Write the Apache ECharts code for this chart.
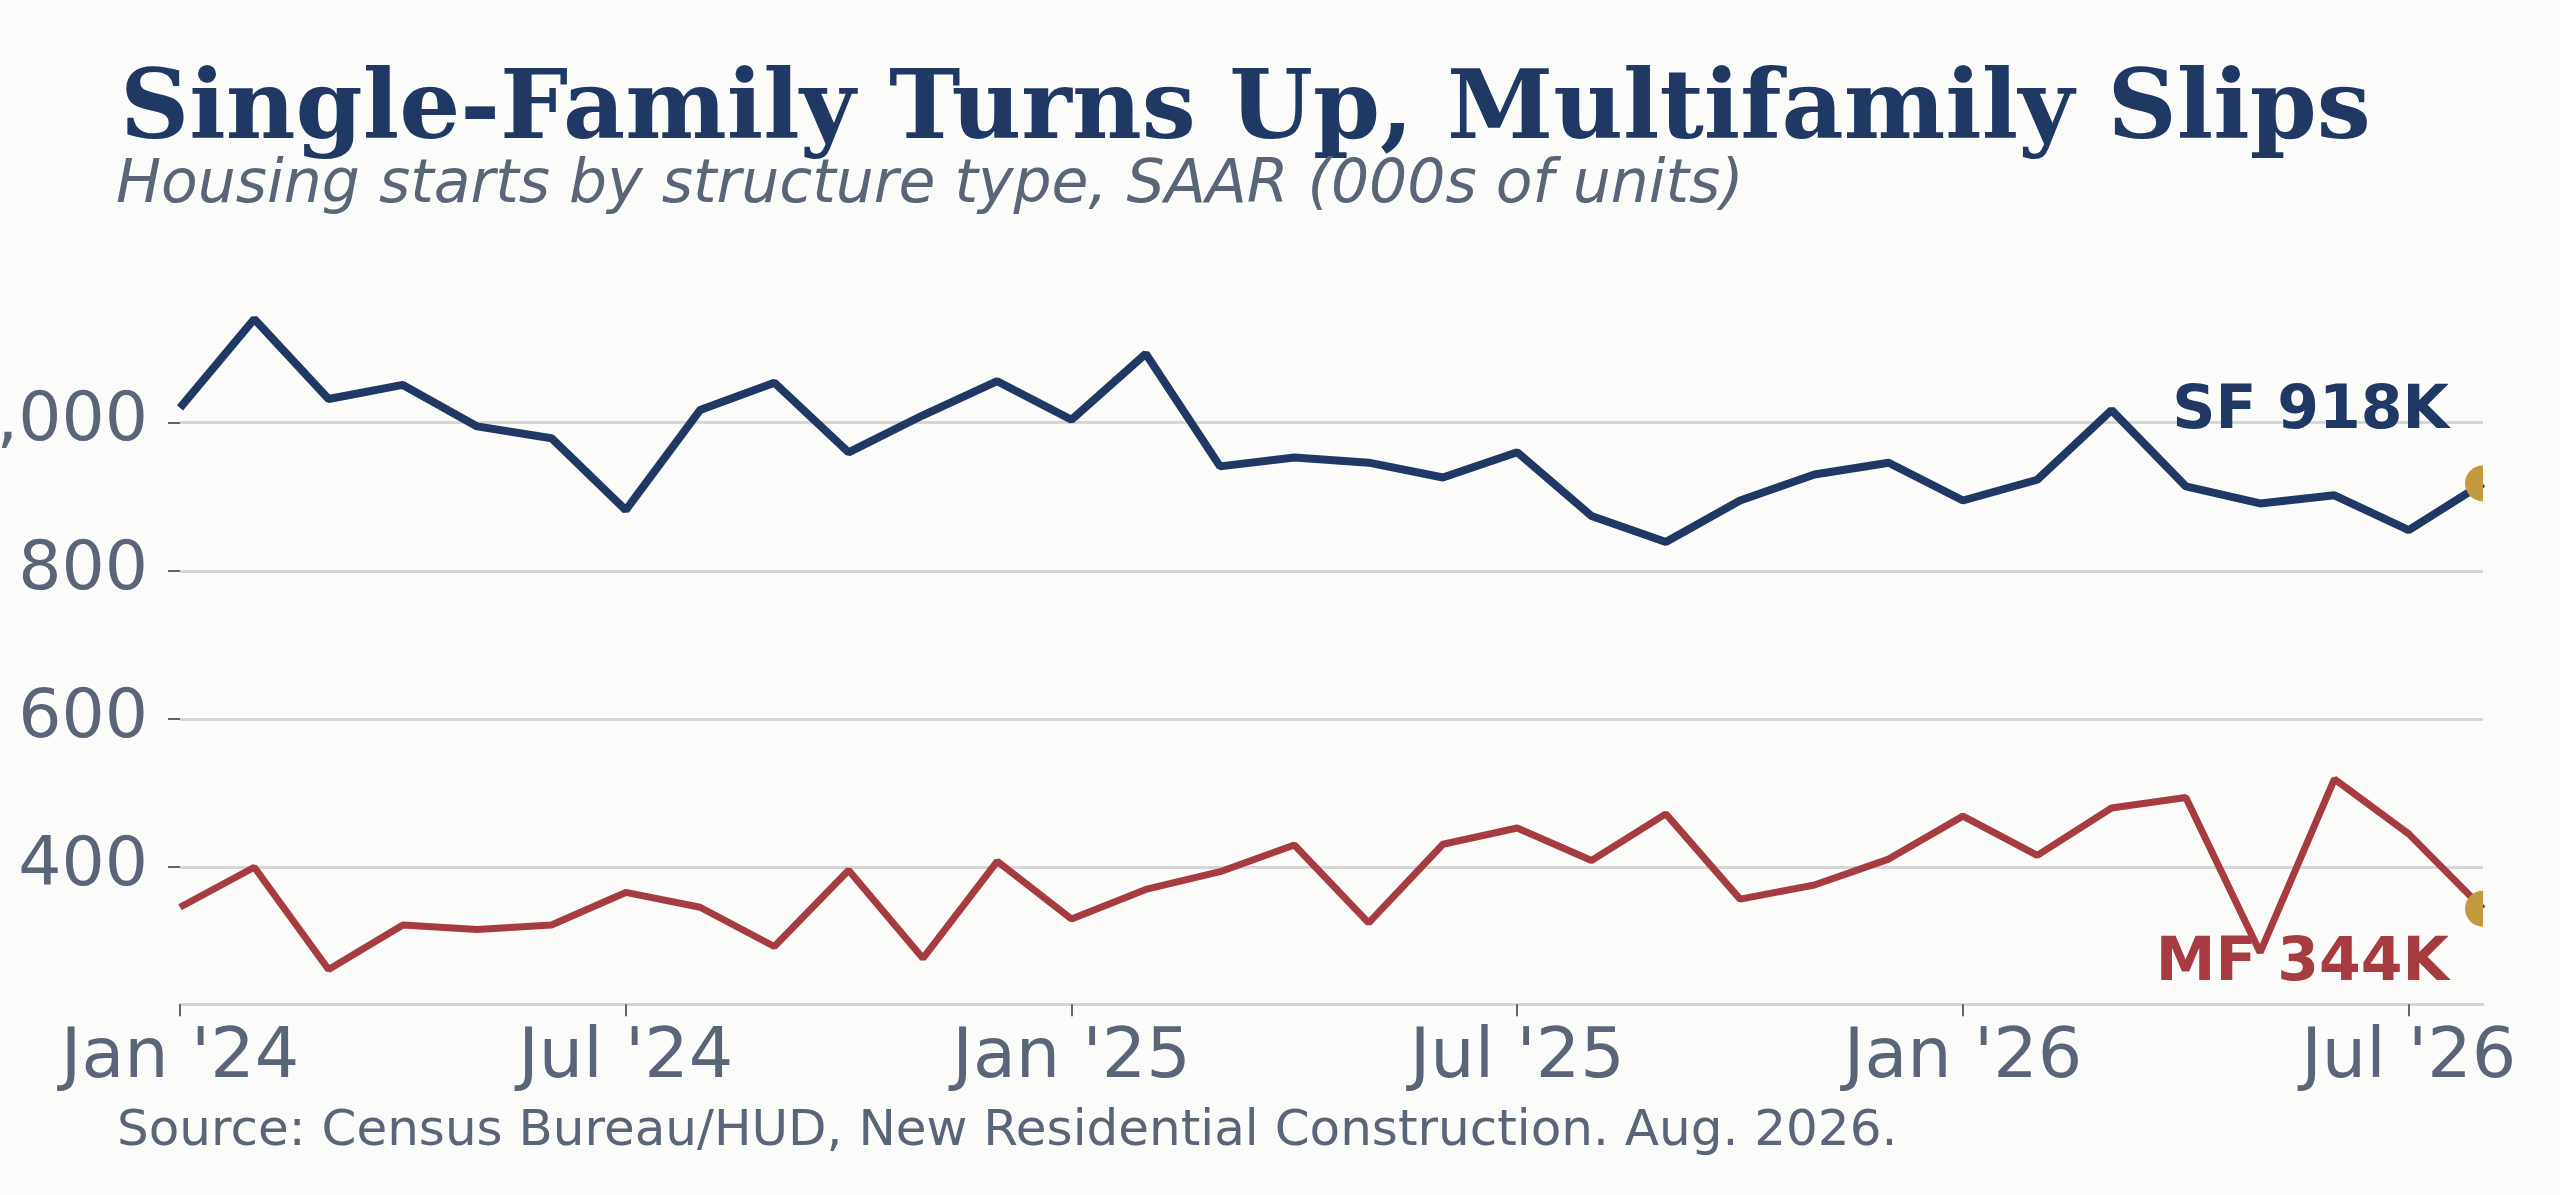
<!DOCTYPE html>
<html>
<head>
<meta charset="utf-8">
<title>Housing starts by structure type</title>
<script src="https://cdn.jsdelivr.net/npm/echarts@6/dist/echarts.min.js"></script>
<style>
  html, body { margin: 0; padding: 0; background: #fbfbf9; }
  #chart { width: 2560px; height: 1195px; }
</style>
</head>
<body>
<div id="chart"></div>
<script>
// monthly housing starts, SAAR, thousands of units
var months = ["Jan '24", "Feb '24", "Mar '24", "Apr '24", "May '24", "Jun '24",
              "Jul '24", "Aug '24", "Sep '24", "Oct '24", "Nov '24", "Dec '24",
              "Jan '25", "Feb '25", "Mar '25", "Apr '25", "May '25", "Jun '25",
              "Jul '25", "Aug '25", "Sep '25", "Oct '25", "Nov '25", "Dec '25",
              "Jan '26", "Feb '26", "Mar '26", "Apr '26", "May '26", "Jun '26",
              "Jul '26", "Aug '26"];
var singleFamily = [1020, 1140, 1032, 1051, 995, 979, 882, 1017, 1054, 960, 1010, 1056,
                    1004, 1093, 941, 953, 946, 926, 960, 874, 839, 895, 930, 946,
                    895, 923, 1017, 914, 891, 902, 855, 918];
var multifamily = [346, 400, 262, 322, 316, 322, 366, 346, 293, 396, 277, 408,
                   330, 370, 394, 430, 325, 431, 453, 409, 472, 357, 376, 411,
                   469, 416, 480, 494, 285, 519, 445, 344];
var yTicks = [400, 600, 800, 1000];

var navy = '#1f3864';
var red = '#a63c40';
var gold = '#c39a3d';
var grey = '#5a6577';
var sans = 'DejaVu Sans';

// left half of a dot, the plot edge cuts the rest off
var halfDot = 'path://M10,0 A10,10 0 0,0 10,20 Z';

// mark the latest month with the gold dot and the "XX 123K" tag
function withLastPoint(values, tag, color, dy) {
    var data = values.slice(0, -1);
    var v = values[values.length - 1];
    data.push({
        value: v,
        symbol: halfDot,
        symbolSize: [18, 36],
        symbolOffset: ['-50%', 0],
        itemStyle: { color: gold },
        label: {
            show: true,
            position: 'left',
            distance: 16,
            offset: [0, dy],
            formatter: tag + ' ' + v + 'K',
            color: color,
            fontFamily: sans,
            fontWeight: 'bold',
            fontSize: 60
        }
    });
    return data;
}

var chart = echarts.init(document.getElementById('chart'));
chart.setOption({
    backgroundColor: '#fbfbf9',
    animation: false,
    title: [{
        text: 'Single-Family Turns Up, Multifamily Slips',
        left: 120, top: 65, padding: 0,
        textStyle: { fontFamily: 'DejaVu Serif', fontWeight: 'bold', fontSize: 96, color: navy }
    }, {
        text: 'Housing starts by structure type, SAAR (000s of units)',
        left: 116, top: 156, padding: 0,
        textStyle: { fontFamily: sans, fontStyle: 'italic', fontWeight: 'normal', fontSize: 60, color: grey }
    }, {
        text: 'Source: Census Bureau/HUD, New Residential Construction. Aug. 2026.',
        left: 117, top: 1107, padding: 0,
        textStyle: { fontFamily: sans, fontWeight: 'normal', fontSize: 50, color: grey }
    }],
    grid: { left: 180, right: 77, top: 274.5, bottom: 190.7, outerBoundsMode: 'none', containLabel: false },
    xAxis: {
        type: 'category',
        data: months,
        boundaryGap: false,
        axisLine: { show: true, lineStyle: { color: '#d4d4d4', width: 3 } },
        axisTick: { show: true, interval: 5, length: 12, lineStyle: { color: grey, width: 2 } },
        axisLabel: { interval: 5, margin: 20, color: grey, fontFamily: sans, fontSize: 70 },
        splitLine: { show: false }
    },
    yAxis: {
        type: 'value',
        min: 215,
        max: 1200,
        axisLine: { show: false },
        axisTick: { show: true, length: 12, customValues: yTicks, lineStyle: { color: grey, width: 2 } },
        axisLabel: {
            customValues: yTicks,
            margin: 32,
            color: grey,
            fontFamily: sans,
            fontSize: 68,
            formatter: function (v) { return v.toLocaleString('en-US'); }
        },
        splitLine: { show: true, lineStyle: { color: '#d6d6d6', width: 3 } }
    },
    series: [{
        name: 'Single-family',
        type: 'line',
        data: withLastPoint(singleFamily, 'SF', navy, -71),
        symbol: 'none',
        showSymbol: true,
        clip: true,
        lineStyle: { color: navy, width: 8 },
        itemStyle: { color: navy },
        z: 3
    }, {
        name: 'Multifamily',
        type: 'line',
        data: withLastPoint(multifamily, 'MF', red, 56),
        symbol: 'none',
        showSymbol: true,
        clip: true,
        lineStyle: { color: red, width: 7 },
        itemStyle: { color: red },
        z: 3
    }]
});
</script>
</body>
</html>
